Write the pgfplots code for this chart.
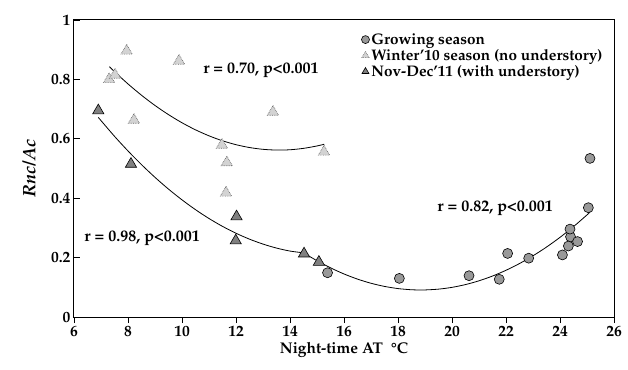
\documentclass[border=0pt]{standalone}
\usepackage[T1]{fontenc}
\usepackage{mathpazo}
\usepackage{textcomp}
\usepackage{pgfplots}
\pgfplotsset{compat=1.18}
\definecolor{gcirc}{HTML}{999999}
\definecolor{lighttri}{HTML}{D3D3D3}
\definecolor{darktri}{HTML}{808080}
\pgfplotstableread{
x y
15.39 0.149
18.05 0.130
20.63 0.139
21.75 0.127
22.06 0.214
22.84 0.198
24.09 0.209
24.31 0.239
24.39 0.270
24.37 0.296
24.65 0.254
25.05 0.368
25.11 0.534
}\growing
\pgfplotstableread{
x y
7.30 0.800
7.52 0.815
7.95 0.896
8.22 0.663
9.89 0.862
11.48 0.579
11.66 0.520
11.63 0.418
13.37 0.690
15.26 0.556
}\winter
\pgfplotstableread{
x y
6.90 0.695
8.11 0.515
12.02 0.338
11.99 0.257
14.52 0.213
15.07 0.185
}\novdec
\begin{document}
\begin{tikzpicture}
\useasboundingbox (-74pt,-52pt) rectangle (554pt,317pt);
\begin{axis}[
  at={(0pt,0pt)}, anchor=south west,
  scale only axis, width=540pt, height=297pt,
  xmin=6, xmax=26, ymin=0, ymax=1,
  xtick={6,8,10,12,14,16,18,20,22,24,26},
  ytick={0,0.2,0.4,0.6,0.8,1},
  yticklabel style={/pgf/number format/fixed, /pgf/number format/precision=1},
  /pgf/number format/assume math mode=true,
  ticklabel style={font=\fontsize{15.5}{17}\selectfont\bfseries},
  tick pos=left,
  xtick align=outside,
  ytick align=inside,
  major tick length=6pt,
  tick style={black, line width=0.9pt},
  axis line style={line width=1pt},
  xlabel={\textbf{Night-time AT\ \ \textdegree C}},
  ylabel={\textbf{\textit{Rnc/Ac}}},
  xlabel style={font=\fontsize{15.5}{17}\selectfont, at={(axis description cs:0.5,-0.112)}, anchor=center},
  ylabel style={font=\fontsize{18}{20}\selectfont, at={(axis description cs:-0.083,0.5)}, anchor=center},
  legend style={draw=none, fill=none, at={(0.532,0.962)}, anchor=north west,
    font=\fontsize{15.3}{16}\selectfont\bfseries, row sep=-0.5pt, inner sep=0pt},
  legend cell align=left,
  legend image code/.code={\draw[mark repeat=2,mark phase=2, mark size=4pt] plot coordinates {(0cm,0cm) (0.15cm,0cm) (0.3cm,0cm)};},
  clip=false,
]
% fitted curves
\addplot[black, line width=0.8pt, smooth, forget plot] coordinates {
(7.31,0.8429) (7.5,0.8262) (8,0.7847) (8.5,0.7467) (9,0.7122) (9.5,0.6814)
(10,0.6540) (10.5,0.6302) (11,0.6100) (11.5,0.5933) (12,0.5802) (12.5,0.5706)
(13,0.5646) (13.5,0.5621) (14,0.5631) (14.5,0.5678) (15,0.5759) (15.27,0.5818)};
\addplot[black, line width=0.8pt, smooth, forget plot] coordinates {
(6.9,0.672) (7.5,0.6084) (8,0.5591) (8.5,0.5130) (9,0.4702) (9.5,0.4306)
(10,0.3944) (10.5,0.3614) (11,0.3316) (11.5,0.3052) (12,0.2820) (12.5,0.2621)
(13,0.2455) (13.5,0.2321) (14,0.2220) (14.5,0.2160)};
\addplot[black, line width=0.8pt, smooth, forget plot] coordinates {
(14.5,0.2160) (15,0.1895) (15.5,0.1656) (16,0.1449) (16.5,0.1276) (17,0.1136)
(17.5,0.1030) (18,0.0957) (18.5,0.0917) (18.845,0.0909) (19,0.0911)
(19.5,0.0938) (20,0.0998) (20.5,0.1092) (21,0.1219) (21.5,0.1379)
(22,0.1573) (22.5,0.1800) (23,0.2061) (23.5,0.2355) (24,0.2682)
(24.5,0.3043) (25,0.3437) (25.11,0.3528)};
% data
\addplot[only marks, mark=*, mark size=5pt, mark options={fill=gcirc, draw=black, line width=0.6pt}]
  table[x=x,y=y] {\growing};
\addlegendentry{Growing season}
\addplot[only marks, mark=triangle*, mark size=6.5pt, mark options={fill=lighttri, draw=black!60, densely dotted, line width=0.7pt}]
  table[x=x,y=y] {\winter};
\addlegendentry{Winter'10 season (no understory)}
\addplot[only marks, mark=triangle*, mark size=6.5pt, mark options={fill=darktri, draw=black, line width=0.6pt}]
  table[x=x,y=y] {\novdec};
\addlegendentry{Nov-Dec'11 (with understory)}
\node[anchor=west, font=\fontsize{16}{17}\selectfont\bfseries, inner sep=0pt] at (axis cs:10.78,0.83) {r = 0.70, p<0.001};
\node[anchor=west, font=\fontsize{16}{17}\selectfont\bfseries, inner sep=0pt] at (axis cs:6.38,0.266) {r = 0.98, p<0.001};
\node[anchor=east, font=\fontsize{16}{17}\selectfont\bfseries, inner sep=0pt] at (axis cs:23.74,0.365) {r = 0.82, p<0.001};
\end{axis}
\end{tikzpicture}
\end{document}
